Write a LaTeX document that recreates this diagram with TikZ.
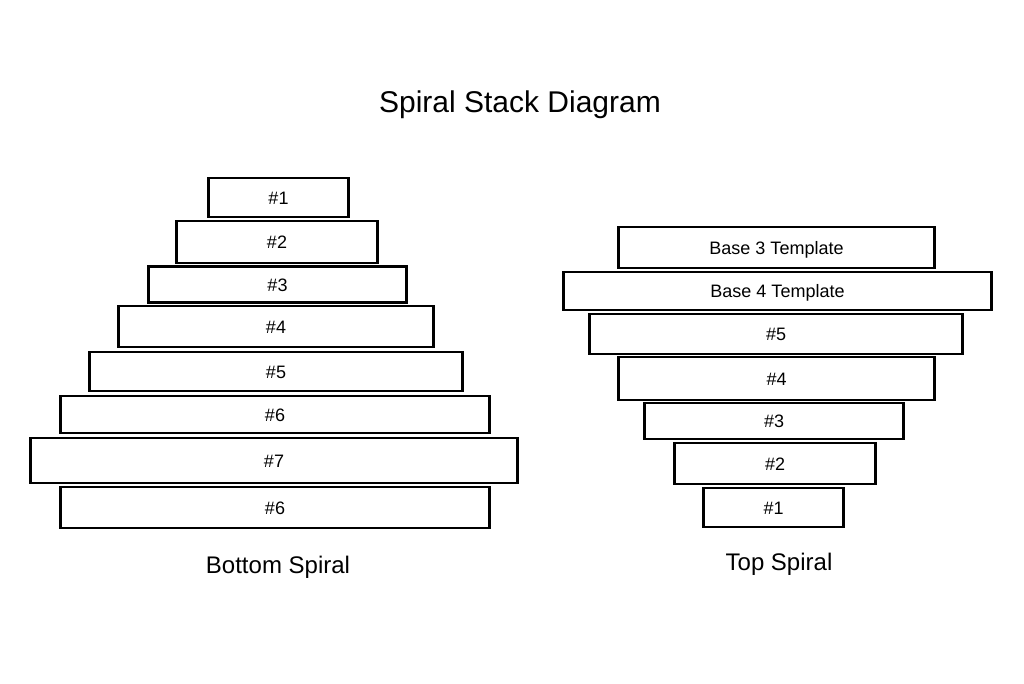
\documentclass[tikz,border=0pt]{standalone}
\usepackage{fontspec}
\setmainfont{Liberation Sans}
\usetikzlibrary{positioning}

\begin{document}
\begin{tikzpicture}[
  x=1pt, y=-1pt,
  layer/.style={rectangle, draw, fill=white, line width=2.6pt, inner sep=0pt, text height=13pt, text depth=0pt, font=\fontsize{18}{21}\selectfont},
  caption/.style={font=\fontsize{24}{28}\selectfont},
  heading/.style={font=\fontsize{30}{35}\selectfont}
]
  \fill[white] (0,0) rectangle (1024,683);
  \useasboundingbox (0,0) rectangle (1024,683);

  \node[heading] (title) at (520,105) {Spiral Stack Diagram};

  % bottom spiral
  \node[layer, minimum width=140, minimum height=39] (b1) at (278.5,197.5) {\#1};
  \node[layer, minimum width=201, minimum height=42] (b2) at (277,242)     {\#2};
  \node[layer, minimum width=258, minimum height=36] (b3) at (277.5,284.5) {\#3};
  \node[layer, minimum width=315, minimum height=41] (b4) at (276,326.5)   {\#4};
  \node[layer, minimum width=373, minimum height=39] (b5) at (276,371.5)   {\#5};
  \node[layer, minimum width=429, minimum height=37] (b6) at (275,414.5)   {\#6};
  \node[layer, minimum width=487, minimum height=45] (b7) at (274,460.5)   {\#7};
  \node[layer, minimum width=429, minimum height=41] (b8) at (275,507.5)   {\#6};
  \node[caption] (bcap) at (278,567) {Bottom Spiral};

  % top spiral
  \node[layer, minimum width=316, minimum height=41] (t1) at (776.5,247.5) {Base 3 Template};
  \node[layer, minimum width=428, minimum height=38] (t2) at (777.5,291)   {Base 4 Template};
  \node[layer, minimum width=373, minimum height=40] (t3) at (776,334)     {\#5};
  \node[layer, minimum width=316, minimum height=43] (t4) at (776.5,378.5) {\#4};
  \node[layer, minimum width=259, minimum height=36] (t5) at (774,421)     {\#3};
  \node[layer, minimum width=201, minimum height=41] (t6) at (775,463.5)   {\#2};
  \node[layer, minimum width=140, minimum height=39] (t7) at (773.5,507.5) {\#1};
  \node[caption] (tcap) at (779,564) {Top Spiral};
\end{tikzpicture}
\end{document}
